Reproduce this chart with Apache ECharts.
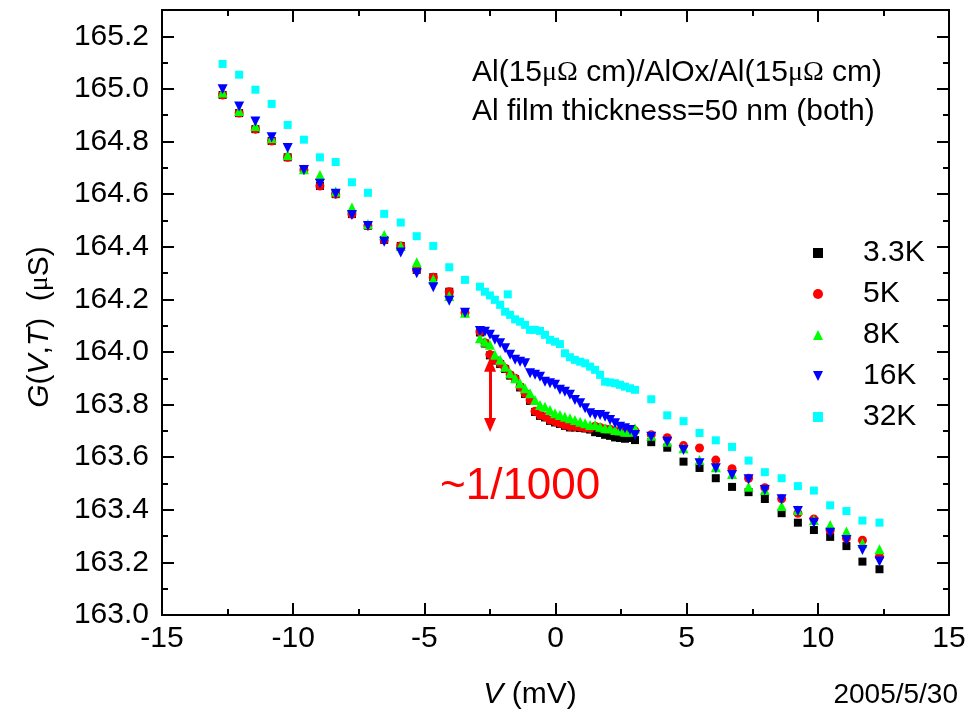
<!DOCTYPE html>
<html><head><meta charset="utf-8">
<script src="https://cdn.jsdelivr.net/npm/echarts@6/dist/echarts.min.js"></script>
<style>html,body{margin:0;padding:0;background:#fff}#c{width:972px;height:726px}</style>
</head><body><div id="c"></div>
<script>
// Bias voltage V (mV), shared by all temperatures
const voltage = [-12.69,-12.06,-11.44,-10.82,-10.21,-9.59,-8.98,-8.38,-7.76,-7.15,-6.53,-5.90,-5.29,-4.66,-4.05,-3.45,
  -2.88,-2.69,-2.50,-2.31,-2.11,-1.92,-1.73,-1.54,-1.35,-1.16,-0.97,-0.78,-0.59,-0.40,-0.21,-0.02,0.17,0.36,0.55,0.74,0.94,1.13,1.32,1.51,1.70,1.89,2.08,2.27,2.46,2.65,2.84,3.03,
  3.65,4.26,4.88,5.49,6.11,6.73,7.36,7.98,8.62,9.24,9.85,10.47,11.09,11.70,12.35];
// Conductance G (µS)
const g3K3 = [164.977,164.908,164.847,164.802,164.740,164.692,164.631,164.600,164.524,164.480,164.426,164.403,164.312,164.284,164.229,164.149,
  164.074,164.032,163.987,163.967,163.954,163.935,163.910,163.897,163.865,163.840,163.814,163.772,163.757,163.751,163.738,163.732,163.726,163.719,163.713,163.713,163.711,163.709,163.705,163.695,163.692,163.685,163.681,163.675,163.673,163.670,163.673,163.665,
  163.657,163.636,163.583,163.559,163.520,163.487,163.467,163.441,163.387,163.351,163.323,163.297,163.262,163.203,163.174];
const g5K = [164.977,164.908,164.847,164.802,164.740,164.692,164.631,164.600,164.524,164.480,164.426,164.403,164.312,164.284,164.229,164.149,
  164.077,164.035,163.990,163.970,163.957,163.938,163.913,163.900,163.868,163.843,163.817,163.775,163.760,163.754,163.741,163.735,163.729,163.722,163.716,163.716,163.714,163.712,163.710,163.718,163.713,163.707,163.706,163.700,163.698,163.694,163.694,163.700,
  163.685,163.674,163.644,163.635,163.589,163.556,163.520,163.484,163.442,163.387,163.365,163.321,163.292,163.284,163.222];
const g8K = [164.986,164.916,164.859,164.813,164.749,164.695,164.673,164.610,164.549,164.486,164.445,164.403,164.341,164.276,164.213,164.149,
  164.052,164.039,164.027,163.989,163.970,163.944,163.919,163.900,163.881,163.862,163.843,163.817,163.798,163.792,163.779,163.767,163.760,163.754,163.748,163.741,163.735,163.729,163.722,163.722,163.716,163.710,163.710,163.703,163.701,163.697,163.697,163.710,
  163.681,163.659,163.634,163.589,163.562,163.536,163.488,163.475,163.414,163.399,163.361,163.342,163.317,163.273,163.250];
const g16K = [164.999,164.933,164.876,164.816,164.775,164.692,164.639,164.601,164.521,164.479,164.419,164.378,164.299,164.246,164.195,164.149,
  164.080,164.077,164.065,164.046,164.033,164.014,163.989,163.970,163.963,163.957,163.919,163.913,163.906,163.887,163.881,163.875,163.856,163.849,163.837,163.817,163.805,163.786,163.767,163.760,163.760,163.754,163.741,163.729,163.716,163.710,163.703,163.684,
  163.678,163.659,163.627,163.577,163.558,163.532,163.516,163.475,163.440,163.395,163.351,163.313,163.285,163.247,163.203];
const g32K = [165.095,165.054,164.997,164.943,164.863,164.807,164.740,164.722,164.645,164.605,164.525,164.492,164.440,164.403,164.322,164.274,
  164.248,164.229,164.215,164.198,164.179,164.153,164.141,164.124,164.115,164.103,164.084,164.084,164.080,164.065,164.046,164.039,164.030,163.995,163.980,163.970,163.963,163.957,163.944,163.932,163.913,163.887,163.884,163.881,163.875,163.868,163.862,163.856,
  163.820,163.759,163.737,163.692,163.664,163.639,163.587,163.543,163.520,163.490,163.473,163.417,163.395,163.359,163.351];
const g32KExtraV = [-1.82];
const g32KExtraG = [164.219];

const seriesNames = ['3.3K','5K','8K','16K','32K'];
const seriesColors = ['#000000','#ff0000','#00ff00','#0000ff','#00ffff'];
const xTicks = [-15,-10,-5,0,5,10,15];
const yTicks = [163.0,163.2,163.4,163.6,163.8,164.0,164.2,164.4,164.6,164.8,165.0,165.2];
const yMax = 165.3;
const arrowV = -2.495, arrowTop = 163.951, arrowBottom = 163.722;

const FONT = "'Liberation Sans', Arial, sans-serif";
const SERIF = "'Liberation Serif', 'Times New Roman', serif";

function pts(ys) { return voltage.map((v, i) => [v, ys[i]]); }
const downTri = 'path://M0,0L10,0L5,10Z';

const chart = echarts.init(document.getElementById('c'), null, {renderer: 'canvas'});

const axisLine = {show: true, onZero: false, lineStyle: {color: '#000', width: 2}};
function xAx(pos, labels) {
  return {type: 'value', position: pos, min: xTicks[0], max: xTicks[xTicks.length-1], interval: 5,
    axisLine: axisLine, splitLine: {show: false},
    axisTick: {show: true, inside: true, length: 12, lineStyle: {color: '#000', width: 2}},
    minorTick: {show: true, splitNumber: 2, length: 6, lineStyle: {color: '#000', width: 2}},
    axisLabel: {show: labels, color: '#000', fontSize: 30, fontFamily: FONT, margin: 9}};
}
function yAx(pos, major, labels) {
  return {type: 'value', position: pos, min: yTicks[0], max: yMax, interval: major ? 0.2 : 0.1,
    axisLine: axisLine, splitLine: {show: false},
    axisTick: {show: true, inside: true, length: major ? 12 : 6, lineStyle: {color: '#000', width: 2}},
    axisLabel: {show: labels, color: '#000', fontSize: 30, fontFamily: FONT, margin: 13, showMaxLabel: false,
      formatter: v => v.toFixed(1)}};
}

const symbols = ['rect','circle','triangle',downTri,'rect'];
const sizes = [8,9,10,10,8];
const data = [g3K3,g5K,g8K,g16K,g32K];

const series = seriesNames.map((n, k) => {
  let d = pts(data[k]);
  if (k === 4) d = d.concat(g32KExtraV.map((v, i) => [v, g32KExtraG[i]]));
  const s = {name: n, type: 'scatter', data: d, symbol: symbols[k], symbolSize: sizes[k],
    itemStyle: {color: seriesColors[k], opacity: 1}, xAxisIndex: 0, yAxisIndex: 0, z: 2 + k, silent: true};
  if (k === 1) {
    s.markLine = {silent: true, symbol: ['triangle','triangle'], symbolSize: [12, 14], animation: false,
      label: {show: false}, lineStyle: {color: '#ff0000', width: 3, type: 'solid'},
      data: [[{coord: [arrowV, arrowTop]}, {coord: [arrowV, arrowBottom]}]]};
  }
  return s;
});

chart.setOption({
  animation: false,
  backgroundColor: '#fff',
  grid: {left: 162, right: 23, top: 10, bottom: 111, containLabel: false},
  xAxis: [xAx('bottom', true), xAx('top', false)],
  yAxis: [yAx('left', true, true), yAx('left', false, false), yAx('right', true, false), yAx('right', false, false)],
  legend: {orient: 'vertical', left: 808, top: 233, itemWidth: 10, itemHeight: 10, itemGap: 11,
    data: seriesNames.map((n, k) => ({name: n, icon: symbols[k]})),
    textStyle: {color: '#000', fontSize: 30, fontFamily: FONT, lineHeight: 30, padding: [0, 0, 0, 35]}},
  series: series,
  graphic: [
    {type: 'text', x: 40, y: 327, rotation: Math.PI / 2,
      style: {text: '{i|G}({i|V},{i|T})  ({s|μ}S)', fill: '#000', font: '30px ' + FONT, align: 'center', verticalAlign: 'middle',
        textAlign: 'center', textVerticalAlign: 'middle',
        rich: {i: {fontStyle: 'italic', fontSize: 30, fontFamily: FONT}, s: {fontSize: 28, fontFamily: SERIF}}}},
    {type: 'text', x: 530, y: 695,
      style: {text: '{i|V} (mV)', fill: '#000', font: '30px ' + FONT, align: 'center', verticalAlign: 'middle',
        textAlign: 'center', textVerticalAlign: 'middle',
        rich: {i: {fontStyle: 'italic', fontSize: 30, fontFamily: FONT}}}},
    {type: 'text', x: 958, y: 695,
      style: {text: '2005/5/30', fill: '#000', font: '28px ' + FONT, align: 'right', verticalAlign: 'middle',
        textAlign: 'right', textVerticalAlign: 'middle'}},
    {type: 'text', x: 472, y: 73,
      style: {text: 'Al(15{s|μΩ} cm)/AlOx/Al(15{s|μΩ} cm)', fill: '#000', font: '30px ' + FONT, align: 'left', verticalAlign: 'middle',
        textAlign: 'left', textVerticalAlign: 'middle',
        rich: {s: {fontSize: 28, fontFamily: SERIF}}}},
    {type: 'text', x: 472, y: 112,
      style: {text: 'Al film thickness=50 nm (both)', fill: '#000', font: '30px ' + FONT, align: 'left', verticalAlign: 'middle',
        textAlign: 'left', textVerticalAlign: 'middle'}},
    {type: 'text', x: 440, y: 487,
      style: {text: '~1/1000', fill: '#ff0000', font: '44px ' + FONT, align: 'left', verticalAlign: 'middle',
        textAlign: 'left', textVerticalAlign: 'middle'}}
  ]
});
</script></body></html>
